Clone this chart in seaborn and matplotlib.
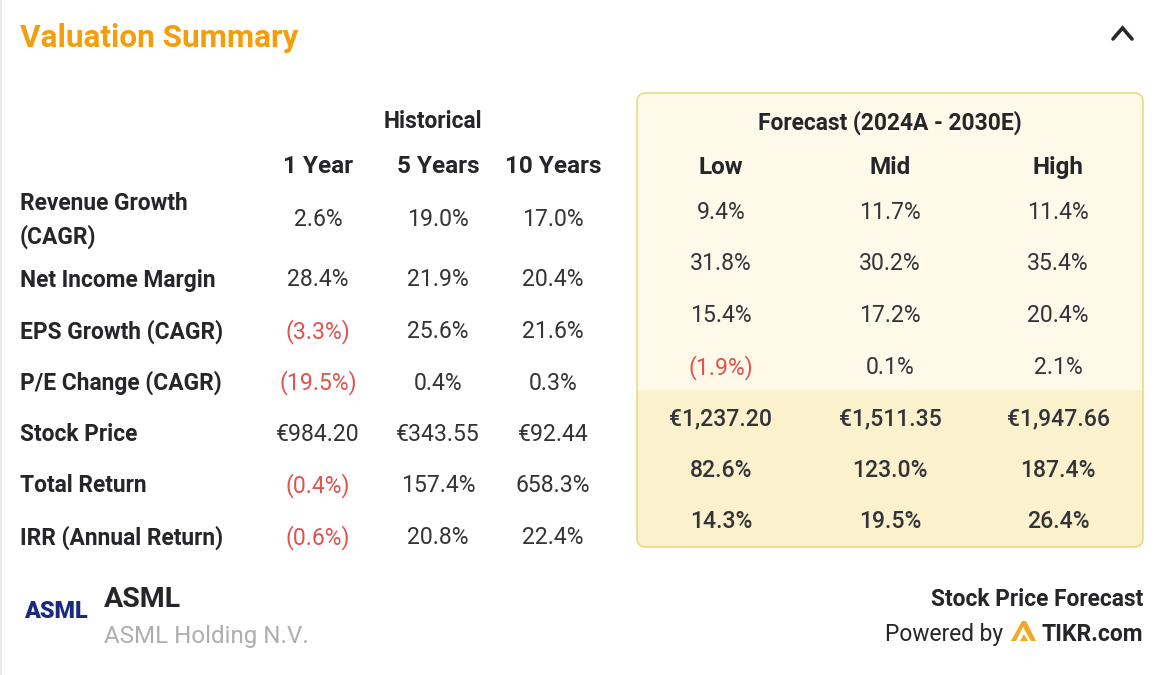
import matplotlib
matplotlib.use("Agg")
import matplotlib.pyplot as plt
from matplotlib.patches import FancyBboxPatch, Rectangle, Polygon
import seaborn as sns

sns.set_theme(style="white")
plt.rcParams['font.family'] = ['Roboto', 'DejaVu Sans']

row_labels = ["Revenue Growth\n(CAGR)", "Net Income Margin", "EPS Growth (CAGR)", "P/E Change (CAGR)",
              "Stock Price", "Total Return", "IRR (Annual Return)"]
hist_cols = ["1 Year", "5 Years", "10 Years"]
fc_cols = ["Low", "Mid", "High"]
hist_1y = ["2.6%", "28.4%", "(3.3%)", "(19.5%)", "€984.20", "(0.4%)", "(0.6%)"]
hist_5y = ["19.0%", "21.9%", "25.6%", "0.4%", "€343.55", "157.4%", "20.8%"]
hist_10y = ["17.0%", "20.4%", "21.6%", "0.3%", "€92.44", "658.3%", "22.4%"]
fc_low = ["9.4%", "31.8%", "15.4%", "(1.9%)", "€1,237.20", "82.6%", "14.3%"]
fc_mid = ["11.7%", "30.2%", "17.2%", "0.1%", "€1,511.35", "123.0%", "19.5%"]
fc_high = ["11.4%", "35.4%", "20.4%", "2.1%", "€1,947.66", "187.4%", "26.4%"]

W, H = 1162, 675
fig = plt.figure(figsize=(W / 100, H / 100), dpi=100, facecolor="white")
ax = fig.add_axes([0, 0, 1, 1])
ax.set_xlim(0, W)
ax.set_ylim(H, 0)
ax.axis("off")
sns.despine(ax=ax, left=True, bottom=True)

DARK = "#26262a"
RED = "#e0534f"
NUM = "#333338"
FS = 16.6
DY = 2

ax.plot([0.5, 0.5], [0, H], color="#e8e8e8", lw=1.2)
ax.text(20, 36 + DY, "Valuation Summary", fontsize=22.7, fontweight="bold", color="#f59e0b", va="center", ha="left")
ax.plot([1113, 1122.5, 1132], [39, 28, 39], color="#2a2a2a", lw=2.6, solid_capstyle="round", solid_joinstyle="miter")

# Forecast panel
panel = FancyBboxPatch((637, 93), 506, 454, boxstyle="round,pad=0,rounding_size=9",
                       fc="#fef9e8", ec="none", zorder=1)
ax.add_patch(panel)
lower = Rectangle((637, 390), 506, 157, fc="#fbf1cd", ec="none", zorder=1.1)
ax.add_patch(lower)
lower.set_clip_path(panel)
edge = FancyBboxPatch((637, 93), 506, 454, boxstyle="round,pad=0,rounding_size=9",
                      fc="none", ec="#e9d272", lw=1.0, zorder=1.2)
ax.add_patch(edge)

def t(x, y, s, color=DARK, weight="normal", ha="center", size=FS):
    ax.text(x, y + DY, s, fontsize=size, color=color, fontweight=weight, ha=ha, va="center", zorder=3)

t(433, 120, "Historical", weight="bold", size=16.3)
t(890, 120.5, "Forecast (2024A - 2030E)", weight="bold", size=16.35)

hist_x = [318, 438, 553]
fc_x = [721, 890, 1058]
for x, s in zip(hist_x, hist_cols):
    t(x, 164.5, s, weight="bold", size=17.5)
for x, s in zip(fc_x, fc_cols):
    t(x, 165.5, s, weight="bold", size=17.5)

row_y = [218, 278, 329.5, 381, 432.5, 484, 536]
fc_y = [210.5, 262, 314, 365.5, 416.5, 468.5, 520]

first_line, second_line = row_labels[0].split("\n")
t(20, 201, first_line, weight="bold", ha="left", size=16.4)
t(20, 235, second_line, weight="bold", ha="left", size=16.4)
for y, s in zip(row_y[1:], row_labels[1:]):
    t(20, y, s, weight="bold", ha="left", size=16.4)

for x, col in zip(hist_x, [hist_1y, hist_5y, hist_10y]):
    for y, s in zip(row_y, col):
        t(x, y, s, color=RED if s.startswith("(") else NUM)
for x, col in zip(fc_x, [fc_low, fc_mid, fc_high]):
    for i, (y, s) in enumerate(zip(fc_y, col)):
        t(x, y, s, color=RED if s.startswith("(") else NUM, weight="medium" if i >= 4 else "normal")

# Footer
t(24, 610, "ASML", color="#1b2a80", weight="heavy", ha="left", size=16.8)
t(104, 597.5, "ASML", weight="bold", ha="left", size=20.5)
t(104, 634.5, "ASML Holding N.V.", color="#aeaeae", ha="left", size=17.4)
t(1143, 597.5, "Stock Price Forecast", weight="bold", ha="right", size=16.4)
t(1143, 632.5, "TIKR.com", weight="bold", ha="right", size=16.5)
t(1003, 632.5, "Powered by", ha="right", size=16.4)
ax.add_patch(Polygon([(1011, 641), (1022, 621), (1026, 621), (1036, 641), (1031, 641), (1023, 627), (1016, 641)], fc="#f5a623", ec="none"))
ax.add_patch(Polygon([(1020, 641), (1024, 634), (1028, 641)], fc="#f5a623", ec="none"))

fig.savefig("out.png", dpi=100, facecolor="white")
